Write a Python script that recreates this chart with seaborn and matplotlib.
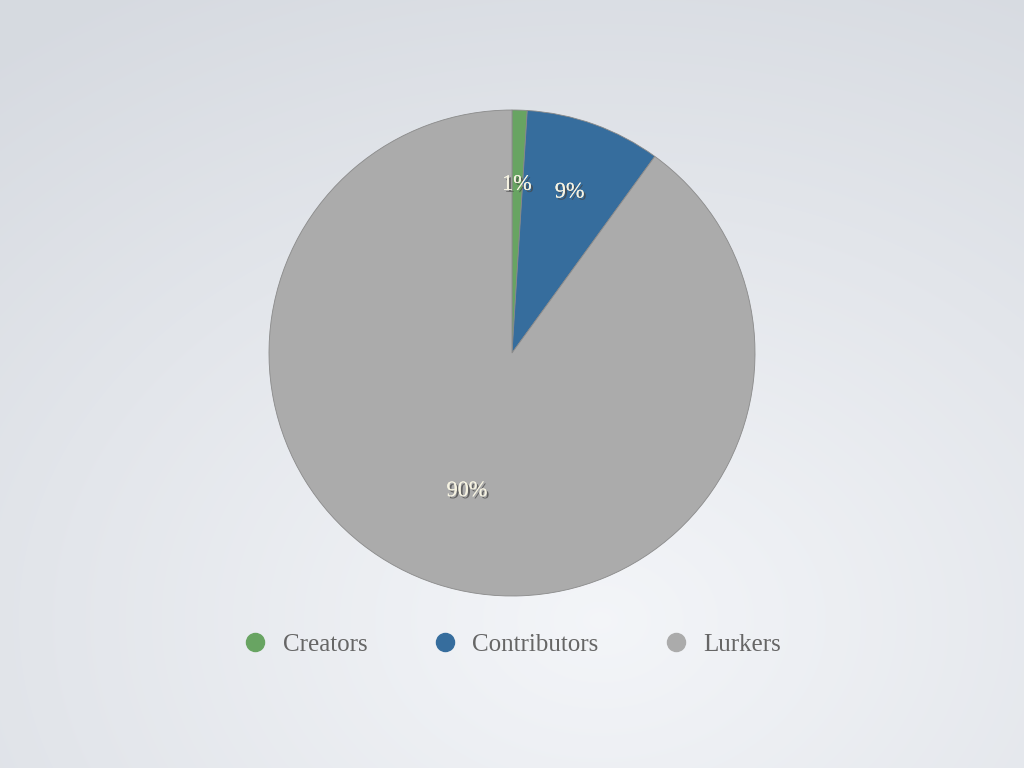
import numpy as np
import matplotlib
matplotlib.use("Agg")
import matplotlib.pyplot as plt
import matplotlib.patheffects as pe
import seaborn as sns

# Datos del gráfico
categorias = ['Creators', 'Contributors', 'Lurkers']
porcentajes = [1, 9, 90]
colores = ['#68a462', '#366d9d', '#ababab']

sns.set_theme(style="white")
plt.rcParams['font.family'] = ['Liberation Serif', 'DejaVu Serif']

fig = plt.figure(figsize=(10.24, 7.68), dpi=100)

# Fondo con degradado radial
bg = fig.add_axes([0, 0, 1, 1])
yy, xx = np.mgrid[0:768, 0:1024]
d = np.sqrt(((xx - 600) / 1024) ** 2 + ((yy - 620) / 768) ** 2)
d = np.clip(d / 0.95, 0, 1)
c0 = np.array([0.955, 0.962, 0.975])
c1 = np.array([0.84, 0.855, 0.88])
img = c0[None, None, :] * (1 - d[..., None]) + c1[None, None, :] * d[..., None]
bg.imshow(img, aspect='auto', extent=[0, 1, 0, 1])
bg.axis('off')

# Gráfico de pastel
ax = fig.add_axes([269 / 1024, (768 - 353 - 243) / 768, 486 / 1024, 486 / 768])
wedges, textos, pcts = ax.pie(
    porcentajes,
    colors=colores,
    startangle=90,
    counterclock=False,
    autopct='%1.0f%%',
    wedgeprops=dict(edgecolor='#8a8a8a', linewidth=0.6),
    textprops=dict(color='#f6f3e2', fontsize=16),
)
distancias = [0.7, 0.7, 0.6]
for w, t, r in zip(wedges, pcts, distancias):
    ang = np.deg2rad((w.theta1 + w.theta2) / 2)
    t.set_position((r * np.cos(ang), r * np.sin(ang)))
    t.set_path_effects([pe.withSimplePatchShadow(offset=(1.5, -1.5), shadow_rgbFace='#444444', alpha=0.7), pe.Normal()])
# ajuste fino del 1%
pcts[0].set_position((0.02, 0.69))
ax.set_xlim(-1, 1)
ax.set_ylim(-1, 1)
ax.set_aspect('equal')

# Leyenda
handles = [plt.Line2D([], [], marker='o', linestyle='', markersize=13,
                      markerfacecolor=c, markeredgecolor=c) for c in colores]
fig.legend(handles, categorias, loc='center', bbox_to_anchor=(0.5, 0.161),
           ncol=3, frameon=False, fontsize=18, labelcolor='#666666',
           handletextpad=0.6, columnspacing=2.6, handlelength=1.0)

fig.savefig('out.png', dpi=100)
